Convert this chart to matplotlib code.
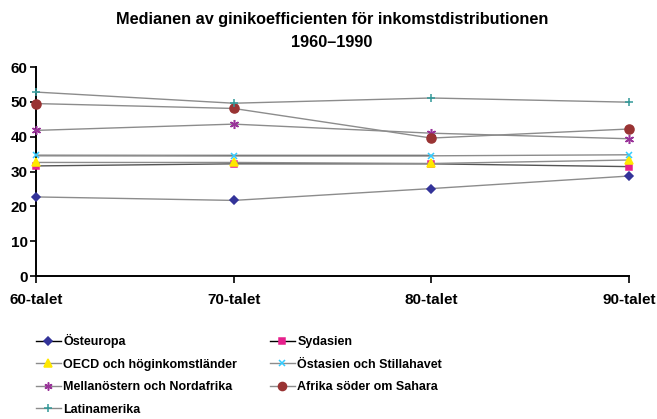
import matplotlib
matplotlib.use("Agg")
import matplotlib.pyplot as plt
from matplotlib.lines import Line2D

plt.rcParams['font.family'] = ['Liberation Sans', 'DejaVu Sans']
plt.rcParams['font.weight'] = 'bold'

categories = ["60-talet", "70-talet", "80-talet", "90-talet"]
series_names = ["Östeuropa", "Sydasien", "OECD och höginkomstländer", "Östasien och Stillahavet",
                "Mellanöstern och Nordafrika", "Afrika söder om Sahara", "Latinamerika"]
osteuropa = [22.7, 21.7, 25.1, 28.7]
sydasien = [31.6, 32.2, 32.2, 31.4]
oecd = [32.6, 32.6, 32.3, 33.3]
ostasien = [34.6, 34.5, 34.5, 34.8]
mellanostern = [41.8, 43.6, 41.0, 39.4]
afrika = [49.5, 48.1, 39.6, 42.2]
latinamerika = [52.8, 49.6, 51.1, 49.9]
yticks = [0, 10, 20, 30, 40, 50, 60]

values = [osteuropa, sydasien, oecd, ostasien, mellanostern, afrika, latinamerika]
styles = [
    dict(marker='D', color='#333399', ms=4.2, line='#8c8c8c', lline='#000000'),
    dict(marker='s', color='#E6208C', ms=4.8, line='#555555', lline='#000000'),
    dict(marker='^', color='#FFE800', ms=6, line='#8c8c8c', lline='#8c8c8c'),
    dict(marker='x', color='#33CCFF', ms=5, line='#8c8c8c', lline='#8c8c8c'),
    dict(marker=(6, 2, 0), color='#993399', ms=6.5, line='#8c8c8c', lline='#8c8c8c'),
    dict(marker='o', color='#993333', ms=6.5, line='#8c8c8c', lline='#8c8c8c'),
    dict(marker='+', color='#339999', ms=6, line='#8c8c8c', lline='#8c8c8c'),
]

fig = plt.figure(figsize=(6.57, 4.19), dpi=100)
ax = fig.add_axes([36/657, 1-276/419, (629-36)/657, (276-67)/419])
x = list(range(len(categories)))

handles = []
for name, vals, st in zip(series_names, values, styles):
    ax.plot(x, vals, color=st['line'], lw=1.0, marker=st['marker'], ms=st['ms'],
            mfc=st['color'], mec=st['color'], mew=1.1, clip_on=False, zorder=3)
    handles.append(Line2D([], [], color=st['lline'], lw=1.0, marker=st['marker'], ms=st['ms'] * 0.9,
                          mfc=st['color'], mec=st['color'], mew=1.1, label=name))

# darker overlapping segment as in the reference
ax.plot(x[:3], [ostasien[0]] * 3, color='#000000', lw=1.0, zorder=2)

ax.set_xlim(0, 3)
ax.set_ylim(0, 60)
ax.set_yticks(yticks)
ax.set_xticks(x)
ax.set_xticklabels(categories, fontsize=11, fontweight='bold')
ax.tick_params(axis='y', labelsize=11, length=4, width=1.2, direction='out', pad=2)
ax.tick_params(axis='x', length=5, width=1.2, direction='out', pad=7)
for s in ['top', 'right']:
    ax.spines[s].set_visible(False)
for s in ['left', 'bottom']:
    ax.spines[s].set_linewidth(1.4)
for lbl in ax.get_yticklabels():
    lbl.set_fontweight('bold')

fig.suptitle("Medianen av ginikoefficienten för inkomstdistributionen\n1960–1990",
             x=0.505, y=0.972, fontsize=11.7, fontweight='bold', linespacing=1.65)

order = [0, 2, 4, 6, 1, 3, 5]
leg = fig.legend([handles[i] for i in order], [series_names[i] for i in order],
                 loc='upper left', bbox_to_anchor=(0.047, 0.215), ncol=2, frameon=False,
                 fontsize=9, handlelength=2.0, handletextpad=0.2, columnspacing=2.6,
                 labelspacing=0.85, borderaxespad=0)
for t in leg.get_texts():
    t.set_fontweight('bold')

fig.savefig("out.png", dpi=100)
